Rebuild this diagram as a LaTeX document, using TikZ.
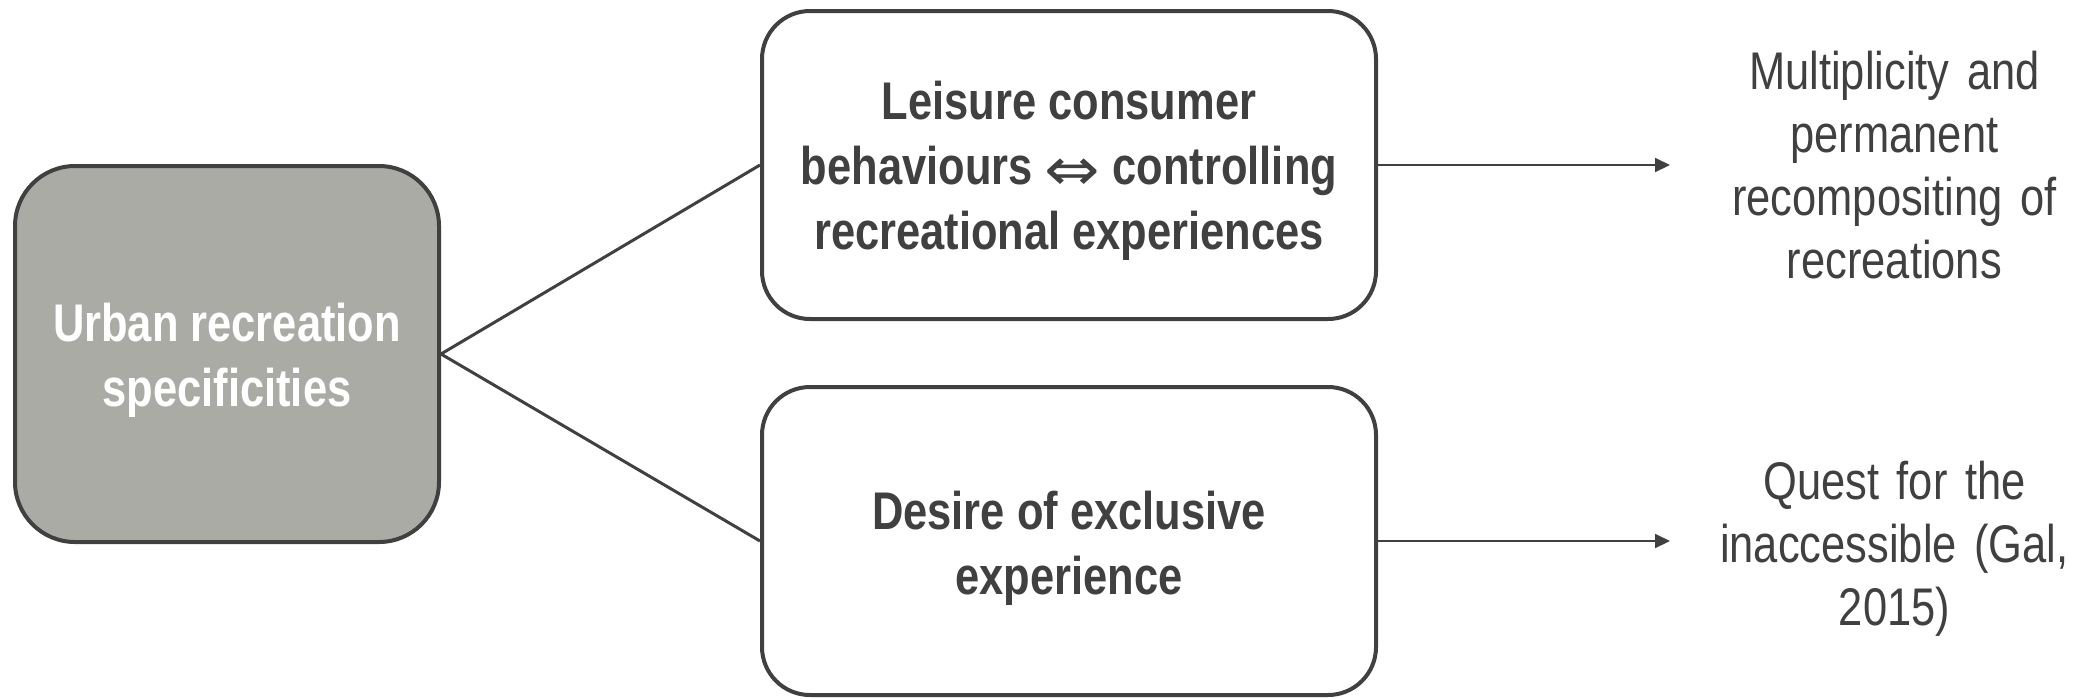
\documentclass[tikz,border=0pt]{standalone}
\usepackage{fontspec}
\setmainfont[FakeStretch=0.82]{Liberation Sans}
\newfontfamily\arrowfont[FakeStretch=0.82]{DejaVu Sans}
\usetikzlibrary{positioning,arrows.meta}
\definecolor{darkgrey}{HTML}{404040}
\definecolor{boxgrey}{HTML}{ABABA6}
% centred lines, moved down a little inside their node
\newcommand{\stacktext}[2][-3.4pt]{\raisebox{#1}[\height][\depth]{\begin{tabular}{@{}c@{}}#2\end{tabular}}}
\newcommand{\iffarrow}{{\arrowfont\mdseries\fontsize{30}{30}\selectfont\raisebox{-3pt}{\scalebox{1.35}[1]{⇔}}}}
\tikzset{
  mainbox/.style={draw=darkgrey, line width=2pt, rounded corners=24pt, fill=white,
    minimum width=307pt, minimum height=154pt, text=darkgrey,
    font=\fontsize{26.5}{32.5}\selectfont\bfseries},
  rootbox/.style={mainbox, fill=boxgrey, text=white, rounded corners=30pt,
    minimum width=212pt, minimum height=188pt},
  outcome/.style={text width=224pt, inner sep=0pt, align=center, text=darkgrey,
    font=\fontsize{26.5}{31.5}\selectfont},
  branch/.style={darkgrey, line width=1.5pt},
  lead/.style={darkgrey, line width=1pt, -{Triangle[length=7.5pt,width=7pt]}}
}
\begin{document}
\begin{tikzpicture}[x=0.5pt, y=-0.5pt]
\useasboundingbox (0,0) rectangle (2087,698);

% Boxes
\node[rootbox] (urban) at (227,354) {\stacktext{Urban recreation\\specificities}};
\node[mainbox] (leisure) at (1069,165) {\stacktext{Leisure consumer\\behaviours \iffarrow{} controlling\\recreational experiences}};
\node[mainbox] (desire) at (1069,541) {\stacktext[-4pt]{Desire of exclusive\\experience}};

% Outcomes
\node[outcome, right=146pt of leisure] (multi) {\stacktext[-3.4pt]{Multiplicity and\\permanent\\recompositing of\\recreations}};
\node[outcome, right=146pt of desire] (quest) {\stacktext[-4.2pt]{Quest for the\\inaccessible (Gal,\\2015)}};

% Connectors
\draw[branch] (urban.east) -- (leisure.west);
\draw[branch] (urban.east) -- (desire.west);
\draw[lead] (leisure.east) -- (multi.west);
\draw[lead] (desire.east) -- (quest.west);
\end{tikzpicture}
\end{document}
